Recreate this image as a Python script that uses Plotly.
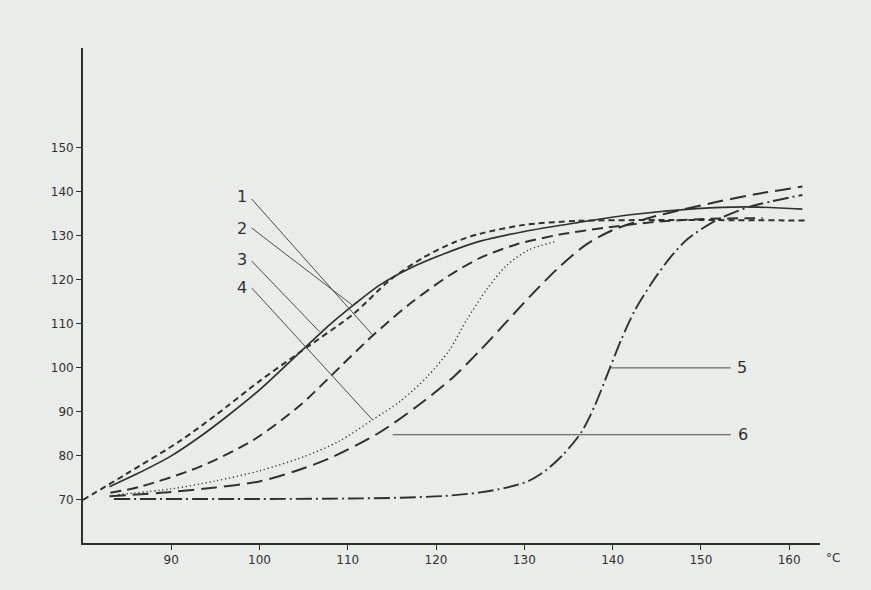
import plotly.graph_objects as go

# ---- data (x in °C) ----
x_ticks = [90, 100, 110, 120, 130, 140, 150, 160]
y_ticks = [70, 80, 90, 100, 110, 120, 130, 140, 150]

c_shortdash_x = [80, 85, 91, 95, 100, 104.6, 110.6, 114.8, 118.5, 122, 125, 130, 136, 145, 161.8]
c_shortdash_y = [70, 76, 83.4, 89.2, 97, 103.6, 112.2, 120, 125, 128.5, 130.5, 132.5, 133.4, 133.6, 133.5]

c_solid_x = [83, 86, 90, 93, 96, 100, 104.6, 108, 110.6, 113.6, 117, 121, 125, 130, 136, 142, 149.5, 155, 161.5]
c_solid_y = [73, 75.8, 80, 84, 88.5, 95, 103.6, 109.9, 114.2, 118.8, 122.6, 126, 128.8, 131, 133, 134.8, 136.2, 136.6, 136.1]

c_dash_x = [83.1, 86.5, 93.2, 99.3, 104.6, 108, 112.8, 117, 121.5, 125, 129, 134, 139, 145, 151, 157]
c_dash_y = [71.6, 73, 77.5, 83.6, 91.5, 98, 107.3, 114.5, 121, 125, 128, 130.3, 131.8, 133.2, 133.9, 134]

c_dot_x = [84, 90, 95, 100, 105, 109, 112.8, 116, 119, 121.5, 123.5, 125.8, 128, 130.5, 133.7]
c_dot_y = [71.2, 72.5, 74.3, 76.6, 79.8, 83.3, 88.2, 92.5, 98, 104, 111, 118, 123.3, 126.8, 128.8]

c_long_x = [83, 90, 95, 100, 104, 108, 113.5, 118, 122, 125, 128, 131, 134, 137, 140, 144, 148, 152, 156, 161.5]
c_long_y = [70.8, 71.8, 72.8, 74.2, 76.5, 79.5, 85.2, 91.5, 98, 104, 110.5, 117, 123, 128, 131.3, 134, 136, 137.8, 139.4, 141.2]

c_dashdot_x = [83.5, 100, 110, 116, 121, 125, 128, 130.5, 132.5, 134.5, 136.5, 138, 139.6, 141, 142.5, 144.5, 146.5, 148.5, 151.8, 155.5, 161.5]
c_dashdot_y = [70.2, 70.2, 70.3, 70.5, 70.9, 71.7, 72.8, 74.3, 76.8, 80.5, 85.5, 91.5, 99.5, 106.5, 113, 119.5, 125, 129.3, 133.6, 136.6, 139.3]

# curve labels and leader lines
labels = ["1", "2", "3", "4", "5", "6"]
label_x = [98.0, 98.0, 98.0, 98.0, 154.7, 154.8]
label_y = [139.0, 131.6, 124.6, 118.2, 100.0, 84.8]
lead_x0 = [99.1, 99.1, 99.1, 99.1, 139.7, 115.1]
lead_y0 = [138.4, 131.8, 124.3, 118.2, 100.0, 84.8]
lead_x1 = [112.8, 110.5, 106.8, 112.8, 153.4, 153.4]
lead_y1 = [107.5, 114.3, 108.2, 88.2, 100.0, 84.8]

INK = "#2f312f"
BG = "#e9ece9"

fig = go.Figure()

def add_curve(xs, ys, dash, width=1.8):
    fig.add_trace(go.Scatter(x=xs, y=ys, mode="lines",
                             line=dict(color=INK, width=width, dash=dash, shape="spline", smoothing=0.8),
                             hoverinfo="skip", showlegend=False))

add_curve(c_shortdash_x, c_shortdash_y, "6px,4px", 2.0)
add_curve(c_solid_x, c_solid_y, "solid", 1.7)
add_curve(c_dash_x, c_dash_y, "11px,6px", 2.0)
add_curve(c_dot_x, c_dot_y, "1.2px,2.8px", 1.4)
add_curve(c_long_x, c_long_y, "16px,7px", 2.0)
add_curve(c_dashdot_x, c_dashdot_y, "16px,4px,2px,4px", 1.9)

for i, t in enumerate(labels):
    fig.add_shape(type="line", x0=lead_x0[i], y0=lead_y0[i], x1=lead_x1[i], y1=lead_y1[i],
                  line=dict(color="#4a4c4a", width=1))
    fig.add_annotation(x=label_x[i], y=label_y[i], text=t, showarrow=False,
                       font=dict(family="DejaVu Sans", size=16, color=INK))

fig.add_annotation(x=1.0, xref="paper", y=0, yref="paper", text="°C", showarrow=False,
                   xanchor="left", yanchor="top", xshift=4, yshift=-6,
                   font=dict(family="DejaVu Sans", size=12, color=INK))

fig.update_layout(
    width=871, height=590,
    margin=dict(l=83, r=51, t=48, b=47),
    paper_bgcolor=BG, plot_bgcolor=BG,
    xaxis=dict(range=[80, 163.5], tickvals=x_ticks, ticktext=[str(v) for v in x_ticks],
               showgrid=False, zeroline=False, showline=True, linecolor=INK, linewidth=1.8,
               ticks="outside", ticklen=5, tickcolor=INK,
               tickfont=dict(family="DejaVu Sans", size=12, color=INK)),
    yaxis=dict(range=[60.2, 172.7], tickvals=y_ticks, ticktext=[str(v) for v in y_ticks],
               showgrid=False, zeroline=False, showline=True, linecolor=INK, linewidth=1.8,
               ticks="outside", ticklen=5, tickcolor=INK,
               tickfont=dict(family="DejaVu Sans", size=12, color=INK)),
)

fig.write_html("out.html", config={"displayModeBar": False},
               post_script="document.body.style.margin='0';document.body.style.padding='0';"
                           "document.body.style.background='#e9ece9';")
